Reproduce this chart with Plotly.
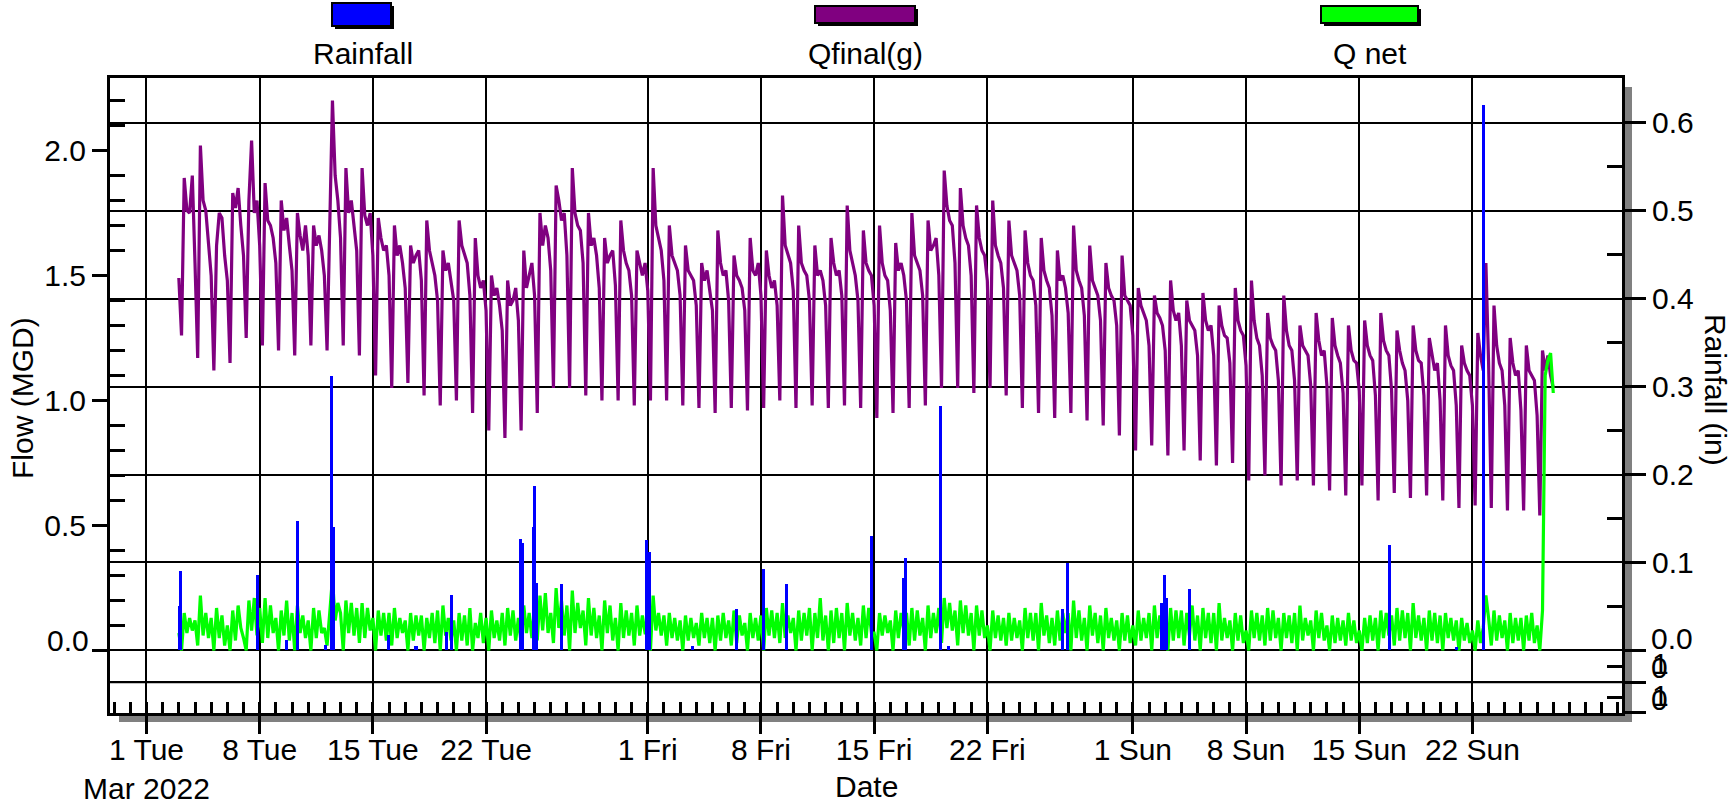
import pandas as pd
import plotly.graph_objects as go

FONT = "Liberation Sans, Arial, sans-serif"

# ---------------------------------------------------------------------------
# Flow readings, one value every 4 hours (00, 04, 08, 12, 16, 20 h),
# starting 2022-03-03 00:00; last reading 2022-05-27 00:00.
# ---------------------------------------------------------------------------
FLOW_START = "2022-03-03 00:00"

QFINAL_MGD = [
    1.49, 1.26, 1.89, 1.76, 1.75, 1.90,  # Mar 3
    1.55, 1.17, 2.02, 1.80, 1.76, 1.62,
    1.50, 1.12, 1.62, 1.75, 1.73, 1.58,
    1.48, 1.15, 1.83, 1.77, 1.85, 1.70,
    1.58, 1.25, 1.80, 2.04, 1.75, 1.80,
    1.62, 1.22, 1.87, 1.72, 1.70, 1.65,  # Mar 8
    1.55, 1.20, 1.80, 1.68, 1.73, 1.62,
    1.52, 1.18, 1.75, 1.66, 1.60, 1.70,
    1.58, 1.22, 1.70, 1.62, 1.66, 1.60,
    1.50, 1.20, 1.75, 2.20, 1.90, 1.80,
    1.65, 1.22, 1.93, 1.75, 1.80, 1.70,  # Mar 13
    1.60, 1.18, 1.93, 1.74, 1.70, 1.75,
    1.58, 1.10, 1.73, 1.65, 1.60, 1.62,
    1.50, 1.05, 1.70, 1.58, 1.62, 1.55,
    1.45, 1.07, 1.62, 1.55, 1.58, 1.60,
    1.48, 1.02, 1.72, 1.60, 1.55, 1.50,  # Mar 18
    1.40, 0.98, 1.60, 1.52, 1.55, 1.48,
    1.40, 1.00, 1.72, 1.62, 1.58, 1.55,
    1.42, 0.95, 1.65, 1.50, 1.45, 1.48,
    1.36, 0.88, 1.50, 1.42, 1.45, 1.38,
    1.28, 0.85, 1.48, 1.38, 1.40, 1.45,  # Mar 23
    1.32, 0.88, 1.60, 1.45, 1.50, 1.55,
    1.42, 0.95, 1.75, 1.62, 1.70, 1.65,
    1.52, 1.05, 1.86, 1.80, 1.72, 1.75,
    1.58, 1.05, 1.93, 1.75, 1.70, 1.68,
    1.55, 1.02, 1.75, 1.62, 1.65, 1.58,  # Mar 28
    1.45, 1.00, 1.65, 1.55, 1.58, 1.60,
    1.46, 1.00, 1.72, 1.60, 1.55, 1.52,
    1.42, 0.98, 1.60, 1.55, 1.50, 1.55,
    1.44, 1.00, 1.93, 1.70, 1.65, 1.60,  # Apr 1
    1.48, 1.00, 1.70, 1.58, 1.55, 1.52,
    1.42, 0.98, 1.62, 1.52, 1.50, 1.48,
    1.38, 0.97, 1.55, 1.48, 1.52, 1.45,
    1.36, 0.95, 1.68, 1.55, 1.50, 1.52,
    1.40, 0.97, 1.58, 1.50, 1.48, 1.45,  # Apr 6
    1.36, 0.96, 1.65, 1.52, 1.50, 1.55,
    1.42, 0.97, 1.60, 1.50, 1.45, 1.48,
    1.38, 1.00, 1.82, 1.62, 1.58, 1.55,
    1.44, 0.97, 1.70, 1.55, 1.52, 1.50,
    1.40, 0.98, 1.62, 1.50, 1.52, 1.48,  # Apr 11
    1.38, 0.97, 1.65, 1.55, 1.50, 1.52,
    1.42, 0.98, 1.78, 1.60, 1.55, 1.50,
    1.40, 0.97, 1.68, 1.55, 1.52, 1.50,
    1.38, 0.93, 1.70, 1.55, 1.50, 1.48,
    1.36, 0.95, 1.63, 1.52, 1.55, 1.50,  # Apr 16
    1.40, 0.97, 1.75, 1.58, 1.55, 1.52,
    1.42, 0.98, 1.72, 1.60, 1.62, 1.65,
    1.50, 1.05, 1.92, 1.78, 1.72, 1.70,
    1.55, 1.05, 1.85, 1.70, 1.65, 1.62,
    1.50, 1.03, 1.78, 1.65, 1.60, 1.58,  # Apr 21
    1.48, 1.05, 1.80, 1.62, 1.58, 1.55,
    1.45, 1.02, 1.72, 1.58, 1.55, 1.52,
    1.42, 0.97, 1.68, 1.55, 1.50, 1.48,
    1.38, 0.95, 1.65, 1.52, 1.48, 1.45,
    1.34, 0.93, 1.60, 1.48, 1.50, 1.45,  # Apr 26
    1.35, 0.95, 1.70, 1.52, 1.48, 1.45,
    1.34, 0.92, 1.62, 1.48, 1.45, 1.42,
    1.32, 0.90, 1.55, 1.45, 1.42, 1.40,
    1.30, 0.86, 1.58, 1.42, 1.40, 1.38,
    1.26, 0.80, 1.45, 1.38, 1.35, 1.32,  # May 1
    1.22, 0.82, 1.42, 1.35, 1.33, 1.30,
    1.20, 0.78, 1.48, 1.36, 1.32, 1.35,
    1.22, 0.80, 1.40, 1.32, 1.30, 1.28,
    1.18, 0.76, 1.43, 1.32, 1.28, 1.30,
    1.18, 0.74, 1.38, 1.30, 1.26, 1.25,  # May 6
    1.15, 0.75, 1.45, 1.32, 1.28, 1.26,
    1.14, 0.68, 1.48, 1.32, 1.25, 1.22,
    1.10, 0.70, 1.35, 1.25, 1.22, 1.20,
    1.08, 0.66, 1.42, 1.28, 1.22, 1.20,
    1.08, 0.68, 1.30, 1.22, 1.20, 1.18,  # May 11
    1.06, 0.66, 1.35, 1.24, 1.18, 1.20,
    1.06, 0.64, 1.33, 1.22, 1.18, 1.15,
    1.03, 0.62, 1.30, 1.20, 1.16, 1.15,
    1.04, 0.66, 1.32, 1.22, 1.18, 1.16,
    1.02, 0.60, 1.35, 1.24, 1.20, 1.18,  # May 16
    1.04, 0.63, 1.28, 1.20, 1.15, 1.12,
    1.00, 0.61, 1.30, 1.20, 1.16, 1.15,
    1.02, 0.62, 1.25, 1.18, 1.12, 1.15,
    1.00, 0.60, 1.30, 1.18, 1.14, 1.12,
    0.98, 0.57, 1.22, 1.15, 1.12, 1.10,  # May 21
    0.98, 0.58, 1.27, 1.18, 1.12, 1.55,
    1.15, 0.57, 1.38, 1.22, 1.15, 1.12,
    0.98, 0.56, 1.25, 1.15, 1.10, 1.12,
    0.96, 0.56, 1.22, 1.12, 1.10, 1.08,
    0.94, 0.54, 1.20, 1.12, 1.18, 1.10,  # May 26
    1.05,                                # May 27 00:00
]

QNET_MGD = [
    0.07, 0.00, 0.15, 0.07, 0.13, 0.08,  # Mar 3
    0.12, 0.02, 0.22, 0.06, 0.15, 0.05,
    0.13, 0.00, 0.17, 0.05, 0.14, 0.02,
    0.10, 0.00, 0.16, 0.04, 0.18, 0.09,
    0.05, 0.00, 0.20, 0.08, 0.21, 0.06,
    0.17, 0.03, 0.21, 0.05, 0.18, 0.07,  # Mar 8
    0.13, 0.00, 0.16, 0.06, 0.20, 0.04,
    0.15, 0.00, 0.18, 0.07, 0.14, 0.05,
    0.12, 0.00, 0.17, 0.05, 0.16, 0.07,
    0.09, 0.02, 0.15, 0.29, 0.12, 0.19,
    0.15, 0.00, 0.20, 0.07, 0.19, 0.06,  # Mar 13
    0.17, 0.03, 0.19, 0.05, 0.17, 0.08,
    0.13, 0.00, 0.16, 0.06, 0.15, 0.04,
    0.15, 0.02, 0.17, 0.05, 0.13, 0.07,
    0.12, 0.00, 0.15, 0.04, 0.14, 0.06,
    0.14, 0.00, 0.13, 0.05, 0.15, 0.03,  # Mar 18
    0.16, 0.00, 0.18, 0.06, 0.13, 0.04,
    0.12, 0.00, 0.15, 0.04, 0.14, 0.02,
    0.17, 0.00, 0.11, 0.05, 0.15, 0.03,
    0.13, 0.00, 0.16, 0.05, 0.12, 0.04,
    0.15, 0.02, 0.17, 0.06, 0.16, 0.04,  # Mar 23
    0.13, 0.03, 0.18, 0.07, 0.15, 0.05,
    0.17, 0.04, 0.22, 0.08, 0.23, 0.07,
    0.15, 0.03, 0.25, 0.09, 0.20, 0.06,
    0.18, 0.00, 0.24, 0.07, 0.19, 0.09,
    0.16, 0.02, 0.21, 0.06, 0.17, 0.05,  # Mar 28
    0.14, 0.00, 0.20, 0.07, 0.18, 0.04,
    0.13, 0.00, 0.19, 0.05, 0.16, 0.06,
    0.15, 0.02, 0.18, 0.06, 0.14, 0.07,
    0.07, 0.00, 0.22, 0.08, 0.15, 0.06,  # Apr 1
    0.14, 0.02, 0.15, 0.05, 0.13, 0.04,
    0.12, 0.00, 0.14, 0.04, 0.13, 0.05,
    0.11, 0.02, 0.15, 0.05, 0.13, 0.03,
    0.13, 0.00, 0.14, 0.04, 0.15, 0.05,
    0.12, 0.02, 0.16, 0.03, 0.14, 0.06,  # Apr 6
    0.11, 0.00, 0.15, 0.05, 0.13, 0.04,
    0.14, 0.00, 0.17, 0.06, 0.16, 0.05,
    0.15, 0.03, 0.19, 0.05, 0.14, 0.07,
    0.13, 0.00, 0.16, 0.04, 0.15, 0.06,
    0.17, 0.00, 0.15, 0.05, 0.21, 0.04,  # Apr 11
    0.14, 0.00, 0.16, 0.03, 0.17, 0.05,
    0.15, 0.00, 0.19, 0.06, 0.15, 0.04,
    0.13, 0.02, 0.18, 0.05, 0.17, 0.07,
    0.07, 0.00, 0.15, 0.06, 0.14, 0.07,
    0.12, 0.00, 0.16, 0.05, 0.15, 0.08,  # Apr 16
    0.15, 0.02, 0.17, 0.04, 0.16, 0.06,
    0.13, 0.00, 0.18, 0.05, 0.15, 0.07,
    0.17, 0.03, 0.21, 0.09, 0.19, 0.08,
    0.16, 0.02, 0.20, 0.07, 0.18, 0.06,
    0.15, 0.00, 0.18, 0.06, 0.16, 0.05,  # Apr 21
    0.10, 0.00, 0.16, 0.05, 0.14, 0.04,
    0.13, 0.02, 0.15, 0.04, 0.13, 0.05,
    0.12, 0.00, 0.17, 0.05, 0.15, 0.04,
    0.15, 0.00, 0.19, 0.06, 0.14, 0.03,
    0.13, 0.02, 0.16, 0.04, 0.15, 0.07,  # Apr 26
    0.15, 0.00, 0.20, 0.05, 0.16, 0.04,
    0.13, 0.00, 0.18, 0.06, 0.15, 0.03,
    0.14, 0.00, 0.17, 0.05, 0.13, 0.04,
    0.12, 0.00, 0.15, 0.04, 0.14, 0.03,
    0.10, 0.02, 0.16, 0.04, 0.13, 0.05,  # May 1
    0.15, 0.00, 0.18, 0.05, 0.14, 0.06,
    0.13, 0.00, 0.17, 0.04, 0.16, 0.05,
    0.16, 0.02, 0.15, 0.06, 0.18, 0.04,
    0.14, 0.00, 0.17, 0.05, 0.15, 0.03,
    0.15, 0.00, 0.19, 0.04, 0.13, 0.05,  # May 6
    0.12, 0.00, 0.15, 0.04, 0.14, 0.03,
    0.08, 0.00, 0.16, 0.05, 0.15, 0.04,
    0.14, 0.02, 0.17, 0.04, 0.16, 0.05,
    0.13, 0.00, 0.15, 0.05, 0.14, 0.03,
    0.15, 0.00, 0.18, 0.04, 0.13, 0.06,  # May 11
    0.12, 0.00, 0.16, 0.05, 0.15, 0.04,
    0.10, 0.00, 0.14, 0.03, 0.13, 0.04,
    0.12, 0.02, 0.15, 0.04, 0.12, 0.03,
    0.08, 0.00, 0.13, 0.03, 0.14, 0.04,
    0.13, 0.00, 0.16, 0.05, 0.15, 0.06,  # May 16
    0.14, 0.02, 0.17, 0.04, 0.16, 0.05,
    0.15, 0.00, 0.19, 0.05, 0.14, 0.04,
    0.13, 0.00, 0.16, 0.04, 0.15, 0.03,
    0.14, 0.00, 0.15, 0.05, 0.13, 0.04,
    0.12, 0.00, 0.13, 0.04, 0.11, 0.03,  # May 21
    0.08, 0.00, 0.12, 0.03, 0.09, 0.22,
    0.13, 0.02, 0.16, 0.04, 0.14, 0.05,
    0.12, 0.00, 0.15, 0.03, 0.13, 0.04,
    0.13, 0.00, 0.14, 0.04, 0.15, 0.03,
    0.10, 0.00, 0.16, 1.10, 1.16, 1.19,  # May 26
    1.03,                                # May 27 00:00
]

# Hourly rain-gauge totals (in), non-zero hours only
RAIN_TIMES = [
    "2022-03-03 01:30", "2022-03-03 02:30", "2022-03-07 21:00", "2022-03-09 16:00",
    "2022-03-10 08:30", "2022-03-12 01:00", "2022-03-12 10:50", "2022-03-12 13:00",
    "2022-03-15 23:00", "2022-03-17 16:00", "2022-03-19 13:30", "2022-03-19 21:00",
    "2022-03-24 02:30", "2022-03-24 06:00", "2022-03-24 22:00", "2022-03-25 00:30",
    "2022-03-25 03:00", "2022-03-26 16:20", "2022-03-31 22:30", "2022-04-01 01:00",
    "2022-04-01 03:00", "2022-04-03 19:00", "2022-04-06 12:00", "2022-04-08 03:30",
    "2022-04-09 14:30", "2022-04-14 20:30", "2022-04-16 19:00", "2022-04-16 22:00",
    "2022-04-19 02:30", "2022-04-19 14:00", "2022-04-26 16:00", "2022-04-26 22:30",
    "2022-05-02 19:00", "2022-05-02 23:30", "2022-05-03 02:30", "2022-05-04 12:00",
    "2022-05-16 20:40", "2022-05-21 00:00", "2022-05-22 16:00",
]
RAIN_IN = [
    0.050, 0.090, 0.086, 0.012,
    0.147, 0.006, 0.312, 0.140,
    0.018, 0.005, 0.021, 0.063,
    0.127, 0.122, 0.140, 0.187,
    0.077, 0.076, 0.126, 0.050,
    0.112, 0.005, 0.047, 0.093,
    0.076, 0.130, 0.082, 0.105,
    0.278, 0.005, 0.047, 0.099,
    0.054, 0.086, 0.060, 0.070,
    0.120, 0.004, 0.620,
]

# Axis ticks
DATE_TICKS = [
    "2022-03-01", "2022-03-08", "2022-03-15", "2022-03-22",
    "2022-04-01", "2022-04-08", "2022-04-15", "2022-04-22",
    "2022-05-01", "2022-05-08", "2022-05-15", "2022-05-22",
]
DATE_TICK_LABELS = [
    "1 Tue<br>Mar 2022", "8 Tue", "15 Tue", "22 Tue",
    "1 Fri", "8 Fri", "15 Fri", "22 Fri",
    "1 Sun", "8 Sun", "15 Sun", "22 Sun",
]
FLOW_TICKS = [0.0, 0.5, 1.0, 1.5, 2.0]
FLOW_TICK_LABELS = ["", "0.5", "1.0", "1.5", "2.0"]
FLOW_MINOR = [0.1, 0.2, 0.3, 0.4, 0.6, 0.7, 0.8, 0.9, 1.1, 1.2, 1.3, 1.4,
              1.6, 1.7, 1.8, 1.9, 2.1, 2.2]
RAIN_TICKS = [-0.0711, -0.036, 0.0, 0.1, 0.2, 0.3, 0.4, 0.5, 0.6]
RAIN_TICK_LABELS = ["", "", "", "0.1", "0.2", "0.3", "0.4", "0.5", "0.6"]
RAIN_MINOR = [-0.053, -0.018, 0.05, 0.15, 0.25, 0.35, 0.45, 0.55]
RAIN_LOWER_RULE = -0.036

SERIES_NAMES = ["Rainfall", "Qfinal(g)", "Q net"]
COLORS = {"Rainfall": "#0000ff", "Qfinal(g)": "#800080", "Q net": "#00ff00"}

# ---------------------------------------------------------------------------
# Page geometry (pixels) and helpers to place decorations in paper units
# ---------------------------------------------------------------------------
W, H = 1732, 802
PL, PR, PT, PB = 110, 1622, 78, 713


def px(x):
    return (x - PL) / (PR - PL)


def py(y):
    return (PB - y) / (PB - PT)


flow_times = pd.date_range(FLOW_START, periods=len(QFINAL_MGD), freq="4h")

fig = go.Figure()

fig.add_trace(go.Bar(
    x=pd.to_datetime(RAIN_TIMES), y=RAIN_IN, yaxis="y2",
    width=4.5 * 3600 * 1000, marker=dict(color=COLORS["Rainfall"], line=dict(width=0)),
    name="Rainfall",
))
fig.add_trace(go.Scatter(
    x=flow_times, y=QFINAL_MGD, mode="lines",
    line=dict(color=COLORS["Qfinal(g)"], width=3.2), name="Qfinal(g)",
))
fig.add_trace(go.Scatter(
    x=flow_times, y=QNET_MGD, mode="lines",
    line=dict(color=COLORS["Q net"], width=3.2), name="Q net",
))

tick_font = dict(family=FONT, size=30, color="black")

fig.update_layout(
    width=W, height=H, autosize=False,
    margin=dict(l=PL, r=W - PR, t=PT, b=H - PB, pad=0),
    paper_bgcolor="white", plot_bgcolor="white",
    showlegend=False, bargap=0,
    font=tick_font,
    xaxis=dict(
        type="date", range=["2022-02-26 17:50", "2022-05-31 06:00"],
        automargin=False,
        tickmode="array", tickvals=DATE_TICKS, ticktext=DATE_TICK_LABELS,
        ticks="outside", ticklen=18, tickwidth=2.5, tickcolor="black",
        tickfont=tick_font, tickangle=0, ticklabelstandoff=-10,
        showgrid=True, gridcolor="black", gridwidth=2.3,
        showline=True, linecolor="black", linewidth=3, mirror=True,
        zeroline=False,
        minor=dict(dtick=86400000, tick0="2022-03-01", ticks="inside",
                   ticklen=11, tickwidth=2.5, tickcolor="black", showgrid=False),
    ),
    yaxis=dict(
        range=[-0.25, 2.29], automargin=False,
        tickmode="array", tickvals=FLOW_TICKS, ticktext=FLOW_TICK_LABELS,
        ticks="outside", ticklen=15, tickwidth=2.5, tickcolor="black",
        tickfont=tick_font,
        showgrid=False, zeroline=False,
        showline=True, linecolor="black", linewidth=3, mirror=True,
        minor=dict(tickmode="array", tickvals=FLOW_MINOR, ticks="inside",
                   ticklen=15, tickwidth=2.5, tickcolor="black", showgrid=False),
    ),
    yaxis2=dict(
        overlaying="y", side="right", automargin=False,
        range=[-0.0712, 0.6509],
        tickmode="array", tickvals=RAIN_TICKS, ticktext=RAIN_TICK_LABELS,
        ticks="outside", ticklen=23, tickwidth=2.5, tickcolor="black",
        tickfont=tick_font,
        showgrid=True, gridcolor="black", gridwidth=2.3,
        zeroline=False, showline=False,
        minor=dict(tickmode="array", tickvals=RAIN_MINOR, ticks="inside",
                   ticklen=15, tickwidth=2.5, tickcolor="black", showgrid=False),
    ),
)

shapes = []
# drop shadow along the right and bottom edges of the plot frame
shapes.append(dict(type="rect", xref="paper", yref="paper", layer="below",
                   x0=px(PR), x1=px(PR + 10), y0=py(PB + 9), y1=py(PT + 9),
                   fillcolor="#808080", line=dict(width=0)))
shapes.append(dict(type="rect", xref="paper", yref="paper", layer="below",
                   x0=px(PL + 9), x1=px(PR + 10), y0=py(PB + 9), y1=py(PB),
                   fillcolor="#808080", line=dict(width=0)))
# rule separating the lower strip
shapes.append(dict(type="line", xref="paper", yref="y2", layer="below",
                   x0=0, x1=1, y0=RAIN_LOWER_RULE, y1=RAIN_LOWER_RULE,
                   line=dict(color="black", width=2.3)))

# legend swatches across the top
swatches = {
    "Rainfall": (332, 391, 3, 26),
    "Qfinal(g)": (815, 915, 6, 23),
    "Q net": (1321, 1418, 6, 23),
}
label_x = {"Rainfall": 363, "Qfinal(g)": 865, "Q net": 1370}
annotations = []
for name in SERIES_NAMES:
    x0, x1, y0, y1 = swatches[name]
    shapes.append(dict(type="rect", xref="paper", yref="paper",
                       x0=px(x0 + 3), x1=px(x1 + 3), y0=py(y1 + 3), y1=py(y0 + 3),
                       fillcolor="black", line=dict(width=0)))
    shapes.append(dict(type="rect", xref="paper", yref="paper",
                       x0=px(x0), x1=px(x1), y0=py(y1), y1=py(y0),
                       fillcolor=COLORS[name], line=dict(color="black", width=2)))
    annotations.append(dict(xref="paper", yref="paper", x=px(label_x[name]), y=py(53),
                            text=name, showarrow=False, xanchor="center",
                            yanchor="middle", font=tick_font))

# axis titles
annotations += [
    dict(xref="paper", yref="paper", x=px(22), y=py(398), text="Flow (MGD)",
         textangle=-90, showarrow=False, xanchor="center", yanchor="middle",
         font=tick_font),
    dict(xref="paper", yref="paper", x=px(1716), y=py(390), text="Rainfall (in)",
         textangle=90, showarrow=False, xanchor="center", yanchor="middle",
         font=tick_font),
    dict(xref="paper", yref="paper", x=0.5, y=py(786), text="Date",
         showarrow=False, xanchor="center", yanchor="middle", font=tick_font),
]

# zero labels sit just above their ticks
annotations += [
    dict(xref="paper", yref="paper", x=px(91), y=py(640), text="0.0",
         showarrow=False, xanchor="right", yanchor="middle", font=tick_font),
    dict(xref="paper", yref="paper", x=px(1649), y=py(638), text="0.0",
         showarrow=False, xanchor="left", yanchor="middle", font=tick_font),
]
# lower strip labels on the right (a "1" printed over a "0")
for yc in (667, 699):
    annotations.append(dict(xref="paper", yref="paper", x=px(1649), y=py(yc),
                            text="0", showarrow=False, xanchor="left",
                            yanchor="middle", font=tick_font))
    annotations.append(dict(xref="paper", yref="paper", x=px(1650), y=py(yc - 4),
                            text="1", showarrow=False, xanchor="left",
                            yanchor="middle", font=tick_font))

fig.update_layout(shapes=shapes, annotations=annotations)

fig.write_html("out.html")
